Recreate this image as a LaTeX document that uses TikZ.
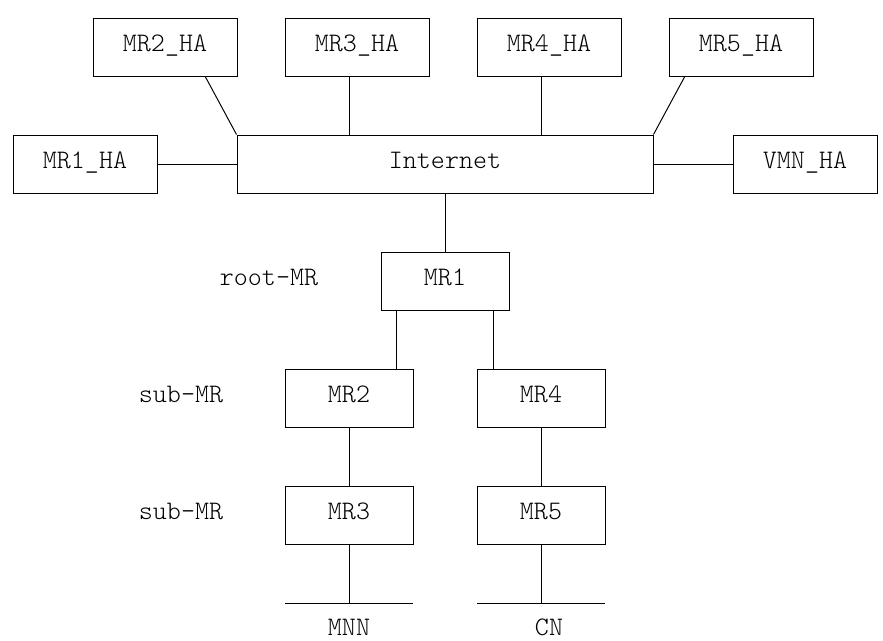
\documentclass[tikz,border=0pt]{standalone}
\usepackage{fontspec}
\setmonofont{Latin Modern Mono Light}
\usetikzlibrary{positioning}

\begin{document}
\begin{tikzpicture}[node distance=2.925cm,on grid,auto,line width=0.7pt,
                    font=\ttfamily\fontsize{19}{22}\selectfont]
      \tikzset{box/.style={draw,rectangle,inner sep=0pt,minimum height=1.4625cm,text height=1.4ex,text depth=0pt},
               habox/.style={box,minimum width=3.6cm},
               mrbox/.style={box,minimum width=3.2cm},
               tag/.style={inner sep=0pt,text height=1.4ex,text depth=0pt}}
      \useasboundingbox (0,0) rectangle (22.075,-16.025);

      \node[habox] (mr1ha) at (2.125,-4.10625) {MR1\_HA};
      \node[box,minimum width=10.4cm] (inet) [right = 9cm of mr1ha] {Internet};
      \node[habox] (vmnha) [right = 9cm of inet] {VMN\_HA};
      \node[habox] (mr2ha) [above left = 2.925cm and 7cm of inet] {MR2\_HA};
      \node[habox] (mr3ha) [right = 4.8cm of mr2ha] {MR3\_HA};
      \node[habox] (mr4ha) [right = 4.8cm of mr3ha] {MR4\_HA};
      \node[habox] (mr5ha) [right = 4.8cm of mr4ha] {MR5\_HA};

      \node[mrbox] (mr1) [below = of inet] {MR1};
      \node[mrbox] (mr2) [below left = 2.925cm and 2.4cm of mr1] {MR2};
      \node[mrbox] (mr4) [right = 4.8cm of mr2] {MR4};
      \node[mrbox] (mr3) [below = of mr2] {MR3};
      \node[mrbox] (mr5) [below = of mr4] {MR5};
      \node[tag] (root) [left = 4.4cm of mr1] {root-MR};
      \node[tag] (sub1) [left = 4.2cm of mr2] {sub-MR};
      \node[tag] (sub2) [left = 4.2cm of mr3] {sub-MR};

      % links at the bottom
      \coordinate[below = 2.19375cm of mr3] (lan3);
      \coordinate[left = 1.6cm of lan3] (lan3w);
      \coordinate[right = 1.6cm of lan3] (lan3e);
      \coordinate[below = 2.19375cm of mr5] (lan5);
      \coordinate[left = 1.6cm of lan5] (lan5w);
      \coordinate[right = 1.6cm of lan5] (lan5e);
      \node[tag] (mnn) [below = 0.6cm of lan3] {MNN};
      \node[tag,xshift=0.2cm] (cn) [below = 0.6cm of lan5] {CN};

      \path
      (mr1ha) edge (inet)
      (inet) edge (vmnha)
      (inet) edge (mr1)
      ([xshift=-0.8cm]mr2ha.south east) edge (inet.north west)
      ([xshift=-0.2cm]mr3ha.south) edge ([xshift=-0.2cm]mr3ha.south |- inet.north)
      ([xshift=-0.2cm]mr4ha.south) edge ([xshift=-0.2cm]mr4ha.south |- inet.north)
      ([xshift=0.4cm]mr5ha.south west) edge (inet.north east)
      ([xshift=0.4cm]mr1.south west) edge ([xshift=0.4cm]mr1.south west |- mr2.north)
      ([xshift=-0.4cm]mr1.south east) edge ([xshift=-0.4cm]mr1.south east |- mr4.north)
      (mr2) edge (mr3)
      (mr4) edge (mr5)
      (mr3) edge (lan3)
      (mr5) edge (lan5)
      (lan3w) edge (lan3e)
      (lan5w) edge (lan5e)
      ;
\end{tikzpicture}
\end{document}
